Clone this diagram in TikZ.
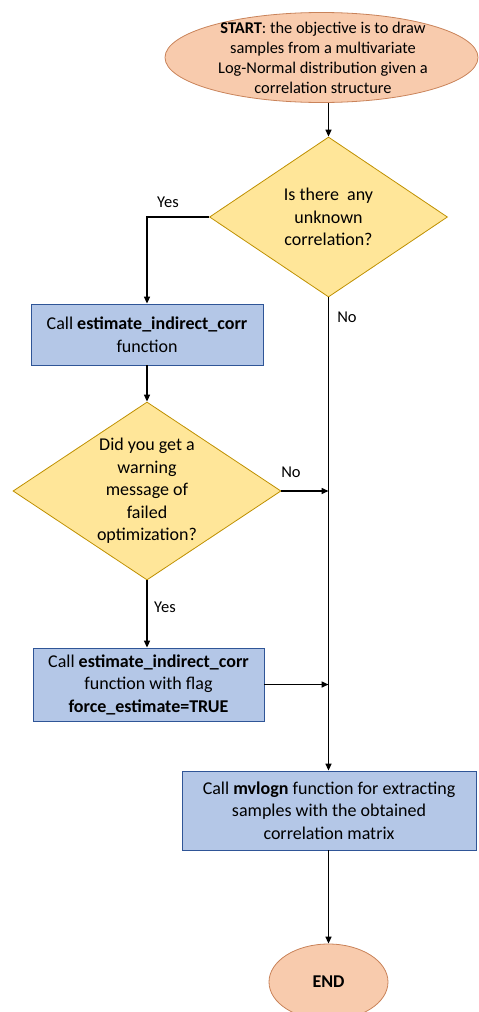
\documentclass[tikz,border=0pt]{standalone}
\usepackage{fontspec}
\setmainfont{Carlito}
\usetikzlibrary{shapes.geometric,arrows.meta}
\definecolor{peach}{HTML}{F8CBAD}
\definecolor{peachline}{HTML}{C9835A}
\definecolor{gold}{HTML}{FFE699}
\definecolor{goldline}{HTML}{BF9000}
\definecolor{procfill}{HTML}{B4C7E7}
\definecolor{procline}{HTML}{2F5597}
\tikzset{
  terminal/.style={ellipse, draw=peachline, fill=peach, line width=0.8pt, inner sep=0pt},
  decision/.style={diamond, draw=goldline, fill=gold, line width=0.8pt, inner sep=0pt},
  process/.style={rectangle, draw=procline, fill=procfill, line width=0.8pt, inner sep=0pt},
  txt/.style={align=center, font=\fontsize{18}{22.5}\selectfont, inner sep=0pt},
  lbl/.style={font=\fontsize{16.5}{20}\selectfont, inner sep=0pt},
  conn/.style={line width=1.5pt, -{Triangle[length=7pt,width=6pt]}}
}
\begin{document}
\begin{tikzpicture}[x=1pt,y=-1pt]
\useasboundingbox (0,0) rectangle (479,1012);
\node[terminal, minimum width=313, minimum height=90] (start) at (321.5,57.5) {};
\node[txt, font=\fontsize{16.4}{20}\selectfont] (starttxt) at (323,57.5) {\textbf{START}: the objective is to draw\\samples from a multivariate\\Log-Normal distribution given a\\correlation structure};
\node[decision, minimum width=238, minimum height=160] (d1) at (328.5,217) {};
\node[txt] (d1txt) at (d1) {Is there\ \ any\\unknown\\correlation?};
\node[process, minimum width=232, minimum height=61] (b1) at (147,334.5) {};
\node[txt] (b1txt) at (b1) {Call \textbf{estimate\_indirect\_corr}\\function};
\node[decision, minimum width=268, minimum height=178] (d2) at (147,491) {};
\node[txt] (d2txt) at (d2) {Did you get a\\warning\\message of\\failed\\optimization?};
\node[process, minimum width=231, minimum height=73] (b2) at (148.5,684.5) {};
\node[txt] (b2txt) at (b2) {Call \textbf{estimate\_indirect\_corr}\\function with flag\\\textbf{force\_estimate=TRUE}};
\node[process, minimum width=294, minimum height=79] (b3) at (329,810.5) {};
\node[txt] (b3txt) at (b3) {Call \textbf{mvlogn} function for extracting\\samples with the obtained\\correlation matrix};
\node[terminal, minimum width=119, minimum height=76] (end) at (328.5,982) {};
\node[txt] (endtxt) at (end) {\textbf{END}};

\coordinate (s0) at (d1.north |- start.south);
\coordinate (j1) at (d1.south |- d2.east);
\coordinate (j2) at (d1.south |- b2.east);
\coordinate (j3) at (d1.south |- b3.north);
\coordinate (e0) at (d1.south |- b3.south);
\coordinate (y2) at (d2.south |- b2.north);

\draw[conn] (s0) -- (d1.north);
\draw[conn] (d1.west) -| (b1.north);
\draw[conn] (d1.south) -- (j3);
\draw[conn] (b1.south) -- (d2.north);
\draw[conn] (d2.east) -- (j1);
\draw[conn] (d2.south) -- (y2);
\draw[conn] (b2.east) -- (j2);
\draw[conn] (e0) -- (end.north);

\node[lbl] (yes1) at (168,202) {Yes};
\node[lbl] (no1) at (347,317) {No};
\node[lbl] (no2) at (291,472) {No};
\node[lbl] (yes2) at (165,607) {Yes};
\end{tikzpicture}
\end{document}
